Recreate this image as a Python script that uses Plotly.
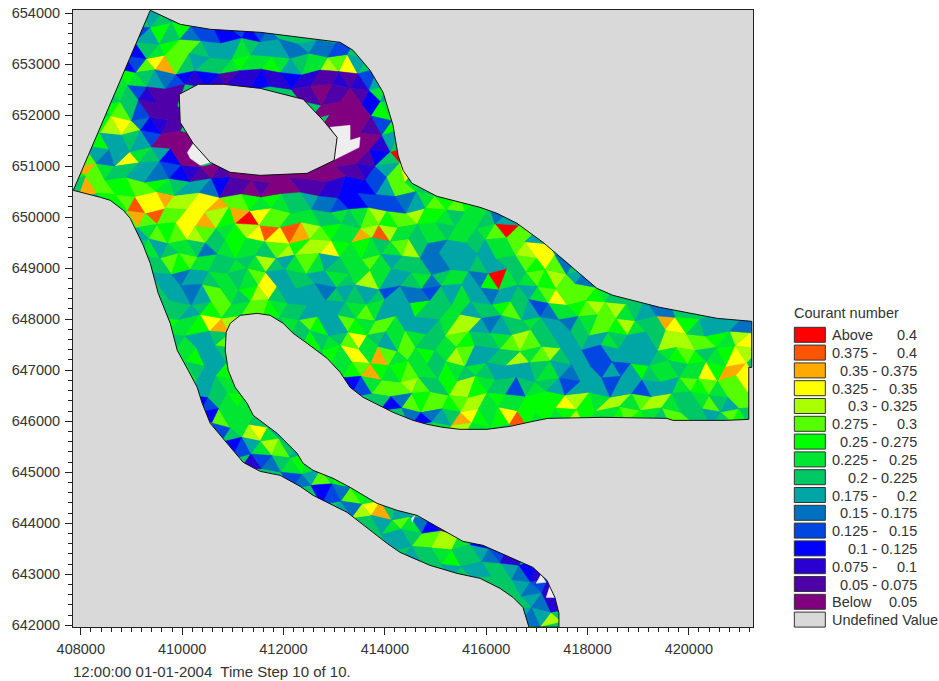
import plotly.graph_objects as go

CLASS_KEYS = list("ponmlkjihgfedcba")
CLASS_COLORS = ["#ff0000", "#ff5500", "#ffaa00", "#ffff00", "#aaff00", "#55ff00", "#00ff00", "#00e632",
                "#00c864", "#00a5a5", "#0070c0", "#0046e0", "#0000ff", "#2800d2", "#5000a8", "#800080"]
LEGEND_LEFT = ["Above", "0.375 -", "", "0.325 -", "", "0.275 -", "", "0.225 -", "", "0.175 -", "",
               "0.125 -", "", "0.075 -", "", "Below"]
LEGEND_RIGHT = ["0.4", "0.4", "0.35 - 0.375", "0.35", "0.3 - 0.325", "0.3", "0.25 - 0.275", "0.25",
                "0.2 - 0.225", "0.2", "0.15 - 0.175", "0.15", "0.1 - 0.125", "0.1", "0.05 - 0.075", "0.05"]
X_TICKS = [408000, 410000, 412000, 414000, 416000, 418000, 420000]
Y_TICKS = [642000, 643000, 644000, 645000, 646000, 647000, 648000, 649000, 650000, 651000, 652000, 653000, 654000]

# Domain outline, model coordinates
BOUND_X = [409371, 409962, 410554, 411540, 413118, 413374, 413709, 413966, 414162, 414261, 414360, 414537, 415030,
           415878, 416214, 416608, 417121, 417594, 418186, 418501, 419428, 420552, 421242, 421242, 421183, 421183,
           420749, 419684, 419566, 418304, 417219, 416923, 416470, 416016, 415484, 415148, 414833, 414557, 414162,
           413571, 413315, 413118, 412861, 412467, 412191, 411993, 411737, 411481, 411146, 410948, 410869, 410850,
           410909, 411047, 411283, 411402, 411737, 411875, 412269, 412388, 412585, 412979, 413315, 413847, 414241,
           414636, 415089, 415543, 415937, 416529, 416923, 417199, 417357, 417436, 417436, 416844, 416726, 416529,
           416273, 415878, 415425, 414892, 414557, 414301, 414044, 413709, 413255, 412585, 412329, 411934, 411540,
           411205, 411007, 410790, 410554, 410396, 410297, 410120, 409903, 409765, 409528, 409371, 409232, 408976,
           408838, 408582, 408385, 407852, 409371]
BOUND_Y = [654045, 653771, 653674, 653615, 653420, 653263, 652873, 652443, 651799, 651213, 650920, 650666, 650412,
           650197, 650080, 649885, 649514, 649123, 648615, 648479, 648244, 648030, 647971, 647072, 647072, 646057,
           646037, 646037, 646076, 646096, 646076, 646018, 645920, 645862, 645862, 645901, 645960, 646037, 646194,
           646487, 646682, 646975, 647248, 647541, 647737, 647932, 648088, 648127, 648088, 647932, 647756, 647405,
           647014, 646682, 646370, 646135, 645881, 645784, 645393, 645198, 645061, 644905, 644729, 644416, 644280,
           644182, 643928, 643674, 643596, 643342, 643166, 642913, 642580, 642268, 642000, 642000, 642385, 642580,
           642756, 642952, 643049, 643205, 643342, 643459, 643635, 643889, 644241, 644572, 644748, 644963, 645041,
           645217, 645451, 645705, 645979, 646369, 646682, 647014, 647405, 647932, 648518, 649104, 649455, 649982,
           650139, 650334, 650393, 650529, 654045]
ISLAND_X = [409942, 410317, 410810, 411540, 412388, 412782, 413058, 412999, 412467, 411540, 410948, 410554, 410218,
            409962, 409942]
ISLAND_Y = [652404, 652600, 652600, 652521, 652307, 651896, 651564, 651115, 650861, 650822, 650881, 651076, 651447,
            651857, 652404]
# Elements without a value
DRY_X = [413058, 412920, 413314, 413314, 413512, 413492, 412979, None,
         410218, 410554, 410356, 410159, 410100, None,
         414517, 414596, 414537, None,
         417081, 417179, 416982, None,
         417258, 417357, 417179]
DRY_Y = [651564, 651760, 651799, 651506, 651564, 651369, 651115, None,
         651447, 651076, 651018, 651154, 651271, None,
         644123, 644182, 644045, None,
         643030, 642874, 642854, None,
         642815, 642580, 642580]

# Courant class of each mesh element, read off row by row from the top (letters a..p as in CLASS_KEYS)
ROW_START = [7, 6, 5, 5, 4, 3, 3, 2, 1, 1, 0, 0, 3, 5, 6, 7, 7, 8, 8, 9, 9, 10, 10, 11, 12, 12, 13, 14, 15, 17,
             21, 24, 26, 29, 31, 33, 37, 42, 44, 44]
ROW_CELLS = [
    "ghg",
    "egjhjfeeddedef",
    "ddhijkkhgggihgggffgffee",
    "dekmnkhghhijiijighiilkmgh",
    "ijihgfedcdcbccdccdccbbcbcegh",
    "hihecbbb...........bbabbabdig",
    "jkhebbbb.............aaaaadji",
    "jlmlfdcbb..............aaaabejeh",
    "ijgghgeaaaa..............aaaacgh",
    "kgfgmihgdaaa............aaaabdhp",
    "jnkihhggfedcbabaaaaaaaaaaaabbcegkm",
    "hnkkjjkkjihggfdbbabaaabbbccdddegkki",
    "jjkommnllmmnkkjijihhgffeddeeeefgikjkjiih",
    "knkokkmmnljnpmkkiiihhihikljkkljjihiihfg",
    "gikjkmlkhijlmomonlkjiinloliihiihiihikpkkgf",
    "ighiihfhijiihkljllmjijihiklhffggghgiiklmmh",
    "hhkjkiihhihilhgikighiikighhhffggghgghhkjmkf",
    "ggfgghiihikmgghhggihiligghifhiigfjpihikjlkgf",
    "hggfgkkihjlmhggggfhghghegffehgiggfgghgikmkkkjih",
    "hhghjkiikkjihhgggghikigggjhhiighhjkhgefiijklklihgff",
    "jiijmnl.....ihkjggkjikkiggghillgfghhihggfhikkjlihhnmjhgggff",
    "higghk.......jhihkmihgikihhikjhhiklkhhgghggihggghlllkkjilm",
    "jijggh.........jimminkikijhilkgghhliklhggeeggggghijkjhijml",
    "ihggj..........ijknjijkiihjihihgggghigfggegegjhiihiimjnnm",
    "gghii..........deikkklkhhjlljihhehihgegggeggegggikjkikkm",
    "dehiji............hdfkjkkjkllijiijjjjmljillikllihhikhgkk",
    "dkiiih..............fdfghnmjijmojijijljiijkjihkkhhghkjh",
    "ehilmig...............inliih",
    "degilkhg",
    "cefhiji",
    "efgkij",
    "defkji",
    "gflmnhg",
    "hgikifdbb",
    "gghkklligd",
    "ghhijhhgfecc",
    "ghgghhgfdc",
    "hhgfec",
    "hgfcc",
    "gfglh",
]

# Small node shifts of the mesh so that elements are not all alike
NODE_SHIFT_X = [36, -54, 18, 66, -24, -72, 48, -12, -42, 60, 6, -66, 30]
NODE_SHIFT_Y = [-42, 24, 54, -18, -60, 36, 6, -36, 66, -12, 42, -54, 18]

MESH_LEFT, MESH_TOP, MESH_BASE, MESH_HEIGHT = 407750, 654050, 395, 301
X_RANGE = [407846, 421266]
Y_RANGE = [641967, 654059]
BG = "#d9d9d9"


def level(y):
    """Outline heights were first read on a slightly different scale; bring them onto the axis."""
    if y is None:
        return None
    return 654000 - ((654240 - y) / 19.53 - 12.7) * 19.6


BOUND_Y = [level(y) for y in BOUND_Y]
ISLAND_Y = [level(y) for y in ISLAND_Y]
DRY_Y = [level(y) for y in DRY_Y]


def node(n, rn):
    x = MESH_LEFT + n * MESH_BASE / 2 + NODE_SHIFT_X[(n * 5 + rn * 11) % 13]
    y = MESH_TOP - rn * MESH_HEIGHT + NODE_SHIFT_Y[(n * 7 + rn * 3) % 13]
    return x, y


xs = {k: [] for k in CLASS_KEYS}
ys = {k: [] for k in CLASS_KEYS}
for r, (start, cells) in enumerate(zip(ROW_START, ROW_CELLS)):
    for i, key in enumerate(cells):
        if key == ".":
            continue
        c = start + i
        if (r + c) % 2 == 0:
            pts = [node(c, r + 1), node(c + 2, r + 1), node(c + 1, r)]
        else:
            pts = [node(c, r), node(c + 2, r), node(c + 1, r + 1)]
        pts.append(pts[0])
        xs[key] += [p[0] for p in pts] + [None]
        ys[key] += [p[1] for p in pts] + [None]

fig = go.Figure()
fig.add_trace(go.Scatter(x=BOUND_X, y=BOUND_Y, mode="lines", fill="toself", fillcolor=CLASS_COLORS[8],
                         line=dict(width=0), hoverinfo="skip"))
for key, col in zip(CLASS_KEYS, CLASS_COLORS):
    fig.add_trace(go.Scatter(x=xs[key], y=ys[key], mode="lines", fill="toself", fillcolor=col,
                             line=dict(color=col, width=0.5), hoverinfo="skip"))
mask_x = [X_RANGE[0], X_RANGE[1], X_RANGE[1], X_RANGE[0], X_RANGE[0], None] + BOUND_X[::-1]
mask_y = [Y_RANGE[1], Y_RANGE[1], Y_RANGE[0], Y_RANGE[0], Y_RANGE[1], None] + BOUND_Y[::-1]
fig.add_trace(go.Scatter(x=mask_x, y=mask_y, mode="lines", fill="toself", fillcolor=BG, line=dict(width=0),
                         hoverinfo="skip"))
fig.add_trace(go.Scatter(x=DRY_X, y=DRY_Y, mode="lines", fill="toself", fillcolor="#eeeeee",
                         line=dict(color="#eeeeee", width=0.5), hoverinfo="skip"))
fig.add_trace(go.Scatter(x=ISLAND_X, y=ISLAND_Y, mode="lines", fill="toself", fillcolor=BG,
                         line=dict(color="#111111", width=1), hoverinfo="skip"))
fig.add_trace(go.Scatter(x=BOUND_X, y=BOUND_Y, mode="lines", line=dict(color="#111111", width=1), hoverinfo="skip"))

W, H = 939, 681
L, R, T, B = 73, 752.7, 9.7, 626.7


def px(x):
    return (x - L) / (R - L)


def py(y):
    return 1 - (y - T) / (B - T)


shapes, notes = [], []
FONT = dict(family="Liberation Sans, Arial, sans-serif", size=14.5, color="#333333")


def note(x, y, text, anchor="left", font=FONT):
    x = x - 2 if anchor == "left" else x + 2
    notes.append(dict(x=px(x), y=py(y), xref="paper", yref="paper", text=text, showarrow=False,
                      xanchor=anchor, yanchor="middle", font=font))


note(794, 313, "Courant number")
swatches = CLASS_COLORS + [BG]
for i, col in enumerate(swatches):
    top = 327 + i * 17.8
    shapes.append(dict(type="rect", xref="paper", yref="paper", x0=px(794), x1=px(825), y0=py(top), y1=py(top + 15),
                       fillcolor=col, line=dict(color="#333333", width=1)))
    if i < len(LEGEND_LEFT):
        if LEGEND_LEFT[i]:
            note(832, top + 8, LEGEND_LEFT[i])
        note(917, top + 8, LEGEND_RIGHT[i], "right")
    else:
        note(832, top + 8, "Undefined Value")
note(73, 671, "12:00:00 01-01-2004  Time Step 10 of 10.", font=dict(FONT, size=15))

axis = dict(showgrid=False, zeroline=False, showline=True, linecolor="#222222", linewidth=1, mirror=True,
            ticks="outside", ticklen=7, tickcolor="#222222", tickformat="d", tickfont=FONT, ticklabelstandoff=2)
minor = dict(dtick=200, ticks="outside", ticklen=4, tickcolor="#222222")
fig.update_layout(
    width=W, height=H, showlegend=False, plot_bgcolor=BG, paper_bgcolor="white",
    margin=dict(l=L, r=W - R, t=T, b=H - B, autoexpand=False), shapes=shapes, annotations=notes,
    xaxis=dict(axis, range=X_RANGE, tickvals=X_TICKS, minor=minor),
    yaxis=dict(axis, range=Y_RANGE, tickvals=Y_TICKS, minor=minor),
)
fig.write_html("out.html", config=dict(displayModeBar=False), post_script="document.body.style.margin='0';")
